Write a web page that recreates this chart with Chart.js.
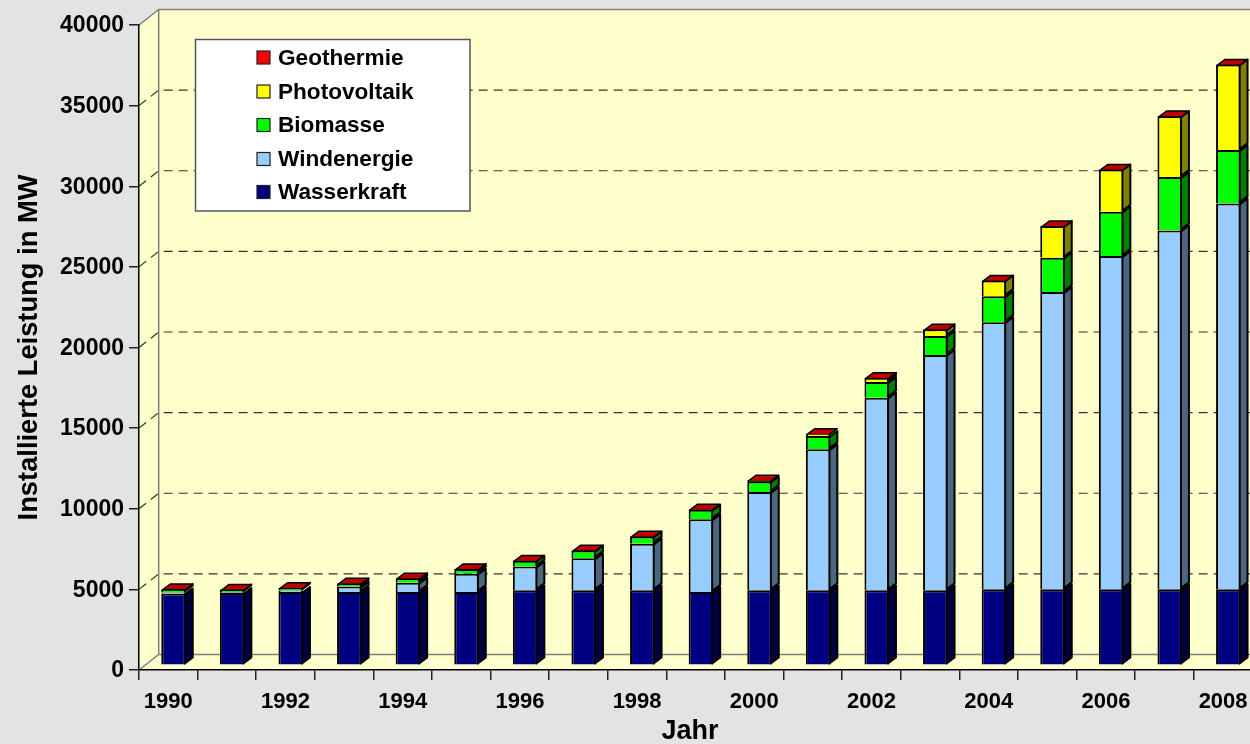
<!DOCTYPE html>
<html>
<head>
<meta charset="utf-8">
<title>Installierte Leistung</title>
<script src="https://cdn.jsdelivr.net/npm/chart.js@4"></script>
<style>
  html, body { margin: 0; padding: 0; overflow: hidden; background: #e3e3e3; }
  canvas { display: block; }
</style>
</head>
<body>
<canvas id="myChart" width="1300" height="744"></canvas>
<script>
// Values, MW per year
var years = ['1990','1991','1992','1993','1994','1995','1996','1997','1998','1999','2000','2001','2002','2003','2004','2005','2006','2007','2008'];
var wasserkraft = [4460,4480,4545,4545,4545,4545,4650,4650,4650,4545,4650,4650,4650,4650,4712,4712,4712,4712,4712];
var windenergie = [55,50,90,335,580,1140,1470,1984,2895,4505,6095,8742,11947,14590,16570,18433,20665,22258,23932];
var biomasse = [215,170,170,200,270,285,370,480,440,600,660,825,967,1178,1612,2133,2753,3305,3305];
var photovoltaik = [1,2,3,5,6,8,11,18,23,32,76,150,273,415,973,1960,2623,3782,5313];
var geothermie = [0,0,0,0,0,0,0,0,0,0,0,0,0,0,0,0,0,3,3];

var yTicks = [0,5000,10000,15000,20000,25000,30000,35000,40000];
var seriesNames = ['Wasserkraft','Windenergie','Biomasse','Photovoltaik','Geothermie'];
var seriesValues = [wasserkraft, windenergie, biomasse, photovoltaik, geothermie];
var frontColors = ['#000080','#99ccff','#00ff00','#ffff00','#ff0000'];
var sideColors = ['#000040','#4d6680','#008000','#808000','#800000'];
var topColor = '#c00000';

var FONT = '"Liberation Sans", Arial, sans-serif';

// how far the back wall sits behind the axes
var wallDx = 19.7, wallDy = 15.5;
// bars stand a bit inside the floor, and have their own small depth
var barDx = 5.2, barDy = 4.7, depthX = 8, depthY = 6;
var EDGE = 2;

var wallPlugin = {
    id: 'wall',
    // yellow walls and dashed gridlines, behind the axes
    beforeDraw: function(chart) {
        var ctx = chart.ctx, a = chart.chartArea, sy = chart.scales.y;
        var x0 = a.left, x1 = x0 + wallDx, yTop = a.top, yBot = a.bottom;
        var right = chart.width;
        ctx.save();
        ctx.fillStyle = '#e3e3e3';
        ctx.fillRect(0, 0, chart.width, chart.height);

        ctx.fillStyle = '#ffffcc';
        ctx.beginPath();
        ctx.moveTo(x0, yTop);
        ctx.lineTo(x1, yTop - wallDy);
        ctx.lineTo(right, yTop - wallDy);
        ctx.lineTo(right, yBot);
        ctx.lineTo(x0, yBot);
        ctx.closePath();
        ctx.fill();

        ctx.strokeStyle = '#333';
        ctx.lineWidth = 1.2;
        ctx.setLineDash([9, 6]);
        yTicks.forEach(function(v) {
            if (v === 0 || v === 40000) return;
            var y = sy.getPixelForValue(v);
            ctx.beginPath();
            ctx.moveTo(x0, y);
            ctx.lineTo(x1, y - wallDy);
            ctx.lineTo(right, y - wallDy);
            ctx.stroke();
        });
        ctx.setLineDash([]);

        ctx.strokeStyle = '#808080';
        ctx.lineWidth = 1.5;
        ctx.beginPath();
        ctx.moveTo(x0, yTop);
        ctx.lineTo(x1, yTop - wallDy);
        ctx.lineTo(right, yTop - wallDy);
        ctx.moveTo(x1, yTop - wallDy);
        ctx.lineTo(x1, yBot - wallDy);
        ctx.lineTo(right, yBot - wallDy);
        ctx.moveTo(x1, yBot - wallDy);
        ctx.lineTo(x0, yBot);
        ctx.stroke();
        ctx.restore();
    },
    // side and top faces, the library then draws the front faces on top
    beforeDatasetsDraw: function(chart) {
        var ctx = chart.ctx;
        ctx.save();
        ctx.translate(barDx, -barDy);
        ctx.strokeStyle = '#000';
        ctx.lineWidth = EDGE;
        ctx.lineJoin = 'round';
        chart.data.datasets.forEach(function(ds, d) {
            chart.getDatasetMeta(d).data.forEach(function(bar) {
                var r = bar.x + bar.width / 2 - EDGE / 2;
                var hi = bar.y + EDGE / 2, lo = bar.base - EDGE / 2;
                if (lo - hi < 0.5) return;
                ctx.fillStyle = sideColors[d];
                ctx.beginPath();
                ctx.moveTo(r, lo);
                ctx.lineTo(r + depthX, lo - depthY);
                ctx.lineTo(r + depthX, hi - depthY);
                ctx.lineTo(r, hi);
                ctx.closePath();
                ctx.fill();
                ctx.stroke();
            });
        });
        ctx.lineWidth = 1.5;
        var last = chart.data.datasets.length - 1;
        chart.getDatasetMeta(last).data.forEach(function(bar) {
            var l = bar.x - bar.width / 2 + EDGE / 2, r = bar.x + bar.width / 2 - EDGE / 2;
            var y = bar.y + EDGE / 2;
            ctx.fillStyle = topColor;
            ctx.beginPath();
            ctx.moveTo(l, y);
            ctx.lineTo(l + depthX, y - depthY);
            ctx.lineTo(r + depthX, y - depthY);
            ctx.lineTo(r, y);
            ctx.closePath();
            ctx.fill();
            ctx.stroke();
        });
    },
    afterDatasetsDraw: function(chart) {
        chart.ctx.restore();
    },
    // legend box and the x axis title
    afterDraw: function(chart) {
        var ctx = chart.ctx;
        ctx.save();
        ctx.fillStyle = '#fff';
        ctx.strokeStyle = '#555';
        ctx.lineWidth = 1.5;
        ctx.fillRect(195.5, 39.5, 274.5, 171.5);
        ctx.strokeRect(195.5, 39.5, 274.5, 171.5);
        ctx.font = 'bold 22.6px ' + FONT;
        ctx.textBaseline = 'middle';
        ctx.textAlign = 'left';
        var rowY = [57.5, 91.5, 125, 159, 192];
        for (var i = 0; i < 5; i++) {
            var d = 4 - i, y = rowY[i];
            ctx.fillStyle = frontColors[d];
            ctx.strokeStyle = '#222';
            ctx.lineWidth = 1.2;
            ctx.fillRect(257, y - 6.5, 13, 13);
            ctx.strokeRect(257, y - 6.5, 13, 13);
            ctx.fillStyle = '#000';
            ctx.fillText(seriesNames[d], 278, y + 1);
        }
        ctx.textAlign = 'center';
        ctx.font = 'bold 27px ' + FONT;
        ctx.fillText('Jahr', 690, 732);
        ctx.restore();
    }
};

var datasets = seriesNames.map(function(name, i) {
    return {
        label: name,
        data: seriesValues[i],
        backgroundColor: frontColors[i],
        borderColor: '#000',
        borderWidth: EDGE,
        barPercentage: 1,
        categoryPercentage: 0.418,
        clip: false
    };
});

var ctx = document.getElementById('myChart').getContext('2d');
var myChart = new Chart(ctx, {
    type: 'bar',
    data: { labels: years, datasets: datasets },
    plugins: [wallPlugin],
    options: {
        responsive: false,
        animation: false,
        layout: { padding: { top: 25, right: 47.6, left: 0, bottom: 0 } },
        plugins: { legend: { display: false }, tooltip: { enabled: false } },
        scales: {
            x: {
                stacked: true,
                grid: { drawOnChartArea: false, tickLength: 10, color: '#222', lineWidth: 1.5 },
                border: { color: '#000', width: 1.5 },
                ticks: {
                    autoSkip: false,
                    maxRotation: 0,
                    padding: 9,
                    color: '#000',
                    font: { family: FONT, size: 22, weight: 'bold' },
                    callback: function(value, index) {
                        return index % 2 === 0 ? years[index] : '';
                    }
                },
                afterFit: function(scale) { scale.height = 74; }
            },
            y: {
                stacked: true,
                min: 0,
                max: 40000,
                grid: { drawOnChartArea: false, tickLength: 10, color: '#222', lineWidth: 1.5 },
                border: { color: '#000', width: 1.5 },
                afterBuildTicks: function(scale) {
                    scale.ticks = yTicks.map(function(v) { return { value: v }; });
                },
                ticks: {
                    padding: 5,
                    labelOffset: 1,
                    color: '#000',
                    font: { family: FONT, size: 23, weight: 'bold' },
                    callback: function(value) { return String(value); }
                },
                title: {
                    display: true,
                    text: 'Installierte Leistung in MW',
                    color: '#000',
                    padding: { top: 13.5, bottom: 0 },
                    font: { family: FONT, size: 27.3, weight: 'bold' }
                },
                afterFit: function(scale) { scale.width = 139; }
            }
        }
    }
});
</script>
</body>
</html>
